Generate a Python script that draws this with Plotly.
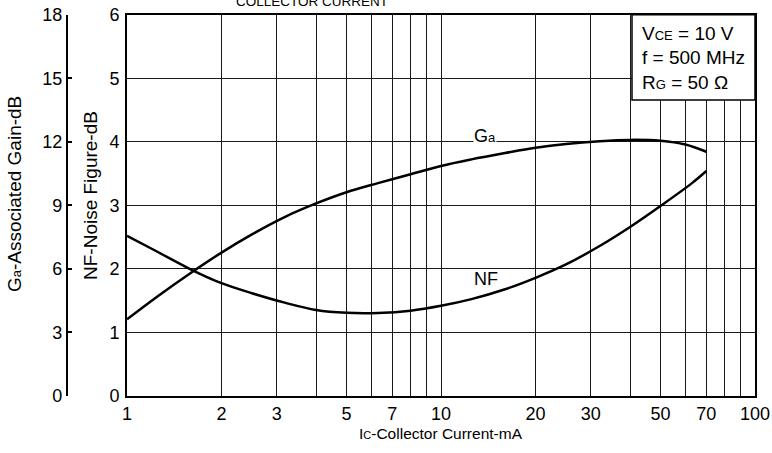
import plotly.graph_objects as go

# ---- data ----
ic_ga = [1, 1.25, 1.6, 2, 2.5, 3.2, 4, 5, 6.3, 8, 10, 12.5, 16, 20, 25, 32, 40, 50, 60, 70]
ga_db = [3.62, 4.70, 5.82, 6.77, 7.63, 8.47, 9.09, 9.62, 10.05, 10.47, 10.86, 11.17, 11.47, 11.72, 11.9, 12.03, 12.09, 12.05, 11.87, 11.53]

ic_nf = [1, 1.25, 1.6, 2, 2.5, 3.2, 4, 5, 6.3, 8, 10, 12.5, 16, 20, 25, 32, 40, 50, 63, 70]
nf_db = [2.52, 2.27, 1.99, 1.775, 1.617, 1.465, 1.354, 1.31, 1.307, 1.343, 1.42, 1.525, 1.68, 1.86, 2.07, 2.36, 2.66, 2.99, 3.35, 3.54]

x_ticks = [1, 2, 3, 5, 7, 10, 20, 30, 50, 70, 100]
x_minor = [4, 6, 8, 9, 40, 60, 80, 90]
nf_ticks = [0, 1, 2, 3, 4, 5, 6]
ga_ticks = [0, 3, 6, 9, 12, 15, 18]

W, H = 772, 453
FONT = "Liberation Sans, Arial, sans-serif"
TICK = 18


def px(x):
    return x / W


def py(y):
    return 1 - y / H


fig = go.Figure()
fig.add_trace(go.Scatter(x=ic_nf, y=nf_db, mode="lines",
                         line=dict(color="black", width=2.5, shape="spline", smoothing=1.0),
                         yaxis="y", showlegend=False, hoverinfo="skip"))
fig.add_trace(go.Scatter(x=ic_ga, y=ga_db, mode="lines",
                         line=dict(color="black", width=2.5, shape="spline", smoothing=1.0),
                         yaxis="y2", showlegend=False, hoverinfo="skip"))

grid = "#1a1a1a"
fig.update_layout(
    width=W, height=H, autosize=False,
    margin=dict(l=0, r=0, t=0, b=0, pad=0),
    paper_bgcolor="white", plot_bgcolor="white",
    font=dict(family=FONT, size=15, color="black"),
    xaxis=dict(
        type="log", range=[0, 2], domain=[px(127), px(755)], automargin=False,
        tickmode="array", tickvals=x_ticks, ticktext=[str(v) for v in x_ticks],
        showgrid=True, gridcolor=grid, gridwidth=1,
        minor=dict(tickmode="array", tickvals=x_minor, showgrid=True, gridcolor=grid, gridwidth=1, ticks=""),
        showline=True, linecolor="black", linewidth=2, mirror=True,
        ticks="", zeroline=False, tickfont=dict(size=TICK), ticklabelstandoff=0,
    ),
    yaxis=dict(
        range=[0, 6], domain=[py(396), py(14.7)], automargin=False,
        tickmode="array", tickvals=nf_ticks,
        showgrid=True, gridcolor=grid, gridwidth=1,
        showline=True, linecolor="black", linewidth=2, mirror=True,
        ticks="", zeroline=False, tickfont=dict(size=TICK), ticklabelstandoff=2,
    ),
    yaxis2=dict(
        range=[0, 18], overlaying="y", anchor="free", position=px(66.7), side="left", automargin=False,
        tickmode="array", tickvals=ga_ticks,
        showgrid=False, zeroline=False,
        showline=True, linecolor="black", linewidth=1.5,
        ticks="inside", ticklen=5, tickwidth=1.5, tickcolor="black", tickfont=dict(size=TICK),
    ),
)

annotations = [
    dict(text="COLLECTOR CURRENT", x=px(312), y=py(11), xref="paper", yref="paper",
         xanchor="center", yanchor="bottom", showarrow=False, font=dict(size=13.5)),
    dict(text="G<span style='font-size:13px'>a</span>-Associated Gain-dB", x=px(15), y=py(194), xref="paper", yref="paper",
         textangle=-90, xanchor="center", yanchor="middle", showarrow=False, font=dict(size=19)),
    dict(text="NF-Noise Figure-dB", x=px(90), y=py(196), xref="paper", yref="paper",
         textangle=-90, xanchor="center", yanchor="middle", showarrow=False, font=dict(size=19)),
    dict(text="I<span style='font-size:11px'>C</span>-Collector Current-mA", x=px(441), y=py(433), xref="paper", yref="paper",
         xanchor="center", yanchor="middle", showarrow=False, font=dict(size=15.5)),
    dict(text="V<span style='font-size:13px'>CE</span> = 10 V", x=px(640), y=py(34), xref="paper", yref="paper",
         xanchor="left", yanchor="middle", showarrow=False, font=dict(size=19)),
    dict(text="f = 500 MHz", x=px(640), y=py(58), xref="paper", yref="paper",
         xanchor="left", yanchor="middle", showarrow=False, font=dict(size=19)),
    dict(text="R<span style='font-size:13px'>G</span> = 50 Ω", x=px(640), y=py(82), xref="paper", yref="paper",
         xanchor="left", yanchor="middle", showarrow=False, font=dict(size=19)),
    dict(text="G<span style='font-size:13px'>a</span>", x=px(485), y=py(136), xref="paper", yref="paper",
         xanchor="center", yanchor="middle", showarrow=False, font=dict(size=18), bgcolor="white", borderpad=0),
    dict(text="NF", x=px(486), y=py(279), xref="paper", yref="paper",
         xanchor="center", yanchor="middle", showarrow=False, font=dict(size=18)),
]
fig.update_layout(annotations=annotations)

fig.add_shape(type="rect", xref="paper", yref="paper",
              x0=px(632), x1=px(755), y0=py(100), y1=py(14.7),
              fillcolor="white", line=dict(color="black", width=1.5), layer="above")

fig.write_html("out.html")
